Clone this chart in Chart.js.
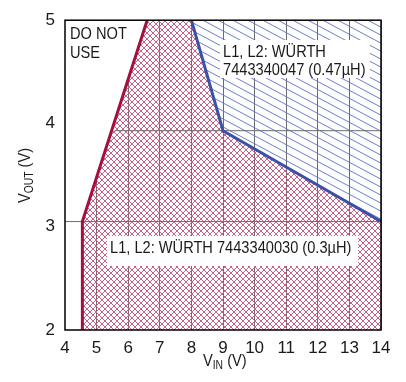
<!DOCTYPE html>
<html>
<head>
<meta charset="utf-8">
<script src="https://cdn.jsdelivr.net/npm/chart.js@4.4.1/dist/chart.umd.min.js"></script>
<style>
  html, body { margin: 0; padding: 0; background: #fff; }
  #wrap { width: 406px; height: 382px; position: relative; }
</style>
</head>
<body>
<div id="wrap"><canvas id="chart" width="406" height="382"></canvas></div>
<script>
// Datos (VIN en V, VOUT en V)
const xTicks = [4, 5, 6, 7, 8, 9, 10, 11, 12, 13, 14];
const yTicks = [2, 3, 4, 5];

// Límite rojo (0.3µH): a la izquierda = DO NOT USE
const redX = [4.55, 4.55, 6.6];
const redY = [2, 3.05, 5];

// Límite azul (0.47µH): por encima = zona del 0.47µH
const blueX = [8.0, 9.0, 14];
const blueY = [5, 3.93, 3.05];

// Líneas horizontales de la rejilla (pasan por los codos)
const hGridY = [3.05, 3.93];
const hGridStartX = [4, 5.57];

const FONT = "'Liberation Sans', Arial, sans-serif";
const NARROW = 0.86;   // simula la fuente condensada del original
const RED = '#a3103c';
const BLUE = '#3b51a8';
const GRID = '#6b6b6b';

// --- Tramas (fondo transparente para que se vea la rejilla) ---
function crossHatch() {
    const c = document.createElement('canvas');
    c.width = 6; c.height = 6;
    const g = c.getContext('2d');
    g.strokeStyle = '#cc5f85';
    g.lineWidth = 1;
    g.beginPath();
    g.moveTo(-1, -1); g.lineTo(7, 7);
    g.moveTo(7, -1); g.lineTo(-1, 7);
    g.stroke();
    return g.createPattern(c, 'repeat');
}

function diagHatch() {
    const w = 15, h = 8;
    const c = document.createElement('canvas');
    c.width = w; c.height = h;
    const g = c.getContext('2d');
    g.strokeStyle = '#5a70c8';
    g.lineWidth = 0.9;
    g.beginPath();
    g.moveTo(-w, -h); g.lineTo(2 * w, 2 * h);
    g.moveTo(0, -h); g.lineTo(2 * w, h);
    g.moveTo(-w, 0); g.lineTo(w, 2 * h);
    g.stroke();
    return g.createPattern(c, 'repeat');
}

const pts = (xs, ys) => xs.map((x, i) => ({ x, y: ys[i] }));

const redArea = pts(redX, redY).concat(pts(blueX, blueY), [{ x: 14, y: 2 }]);
const maskArea = [{ x: 4, y: 2 }].concat(pts(redX, redY));
const noLine = { borderWidth: 0, borderColor: 'rgba(0,0,0,0)' };

const datasets = [
    { data: pts(redX, redY), borderColor: RED, borderWidth: 3, order: 1 },
    { data: pts(blueX, blueY), borderColor: BLUE, borderWidth: 3, order: 2 },
    ...hGridY.map((y, i) => ({
        data: [{ x: hGridStartX[i], y }, { x: 14, y }],
        borderColor: GRID, borderWidth: 1, order: 3
    })),
    { data: pts(blueX, blueY), ...noLine, backgroundColor: diagHatch(), fill: 'end', order: 4 },
    { data: redArea, ...noLine, backgroundColor: crossHatch(), fill: 'start', order: 5 },
    { data: maskArea, ...noLine, backgroundColor: '#fff', fill: 'end', order: 6 }
];

// Cajas de texto
const notes = [
    { lines: ['L1, L2: WÜRTH', '7443340047 (0.47µH)'], x: 220, y: 40, w: 150, h: 38 },
    { lines: ['L1, L2: WÜRTH 7443340030 (0.3µH)'], x: 107, y: 236, w: 251, h: 30 }
];

function narrowText(ctx, txt, x, y) {
    ctx.save();
    ctx.translate(x, y);
    ctx.scale(NARROW, 1);
    ctx.fillText(txt, 0, 0);
    ctx.restore();
    return ctx.measureText(txt).width * NARROW;
}

const extras = {
    id: 'extras',
    afterDatasetsDraw(chart) {
        const { ctx, chartArea: a } = chart;
        ctx.save();
        ctx.textBaseline = 'alphabetic';
        ctx.fillStyle = '#1a1a1a';
        ctx.font = '17px ' + FONT;
        narrowText(ctx, 'DO NOT', a.left + 5, a.top + 19);
        narrowText(ctx, 'USE', a.left + 5, a.top + 38);

        notes.forEach(n => {
            ctx.fillStyle = '#fff';
            ctx.fillRect(n.x, n.y, n.w, n.h);
            ctx.fillStyle = '#1a1a1a';
            n.lines.forEach((t, i) => narrowText(ctx, t, n.x + 3, n.y + 17 + i * 18));
        });

        ctx.strokeStyle = '#000';
        ctx.lineWidth = 1.5;
        ctx.strokeRect(a.left, a.top, a.right - a.left, a.bottom - a.top);

        // Títulos de ejes con subíndice
        const sub = (main, s, tail, x, y) => {
            ctx.font = '17px ' + FONT;
            let dx = narrowText(ctx, main, x, y);
            ctx.font = '12px ' + FONT;
            dx += narrowText(ctx, s, x + dx, y + 3);
            ctx.font = '17px ' + FONT;
            narrowText(ctx, tail, x + dx, y);
        };
        sub('V', 'IN', ' (V)', 203, 366);
        ctx.translate(30, 203);
        ctx.rotate(-Math.PI / 2);
        sub('V', 'OUT', ' (V)', 0, 0);
        ctx.restore();
    }
};

new Chart(document.getElementById('chart'), {
    type: 'line',
    data: { datasets },
    options: {
        responsive: false,
        animation: false,
        layout: { padding: { top: 14, right: 25, left: 0, bottom: 0 } },
        elements: { point: { radius: 0 }, line: { tension: 0 } },
        plugins: { legend: { display: false }, tooltip: { enabled: false } },
        scales: {
            x: {
                type: 'linear', min: 4, max: 14,
                afterBuildTicks: s => { s.ticks = xTicks.map(v => ({ value: v })); },
                afterFit: s => { s.height = 52; },
                ticks: { color: '#1a1a1a', font: { family: FONT, size: 17 }, padding: 8, maxRotation: 0 },
                grid: { color: GRID, lineWidth: 1, drawTicks: false },
                border: { display: false }
            },
            y: {
                type: 'linear', min: 2, max: 5,
                afterBuildTicks: s => { s.ticks = yTicks.map(v => ({ value: v })); },
                afterFit: s => { s.width = 65; },
                ticks: { color: '#1a1a1a', font: { family: FONT, size: 17 }, padding: 10 },
                grid: { display: false, drawTicks: false },
                border: { display: false }
            }
        }
    },
    plugins: [extras]
});
</script>
</body>
</html>
